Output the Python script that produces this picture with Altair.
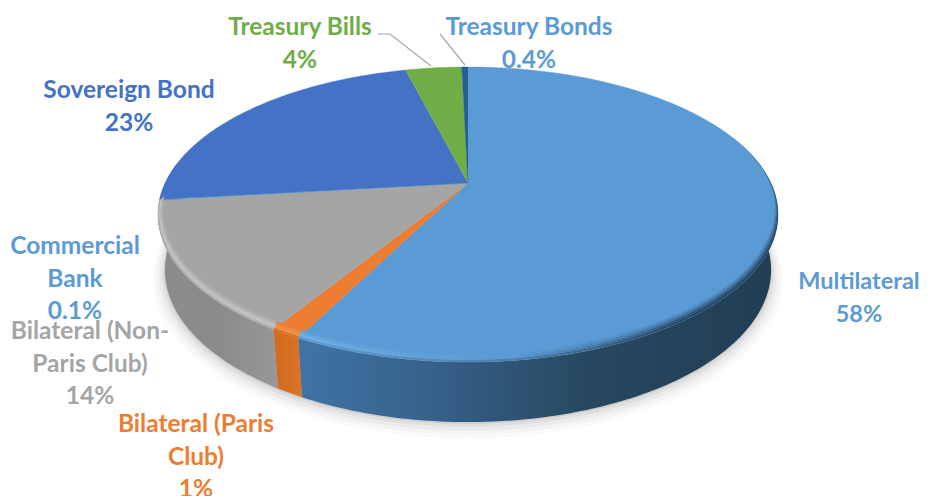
import math
import altair as alt

# ---- chart values (shares of the pie, clockwise from 12 o'clock)
categories = ["Multilateral", "Bilateral (Paris Club)", "Bilateral (Non-Paris Club)",
              "Commercial Bank", "Sovereign Bond", "Treasury Bills", "Treasury Bonds"]
shares = [57.5, 1.3, 14.3, 0.1, 22.8, 3.6, 0.4]
face_colors = ["#5b9bd5", "#ed7d31", "#a5a5a5", "#5b9bd5", "#4472c4", "#70ad47", "#255e91"]

label_texts = ["Treasury Bills\n4%", "Treasury Bonds\n0.4%", "Sovereign Bond\n23%",
               "Commercial\nBank\n0.1%", "Bilateral (Non-\nParis Club)\n14%",
               "Bilateral (Paris\nClub)\n1%", "Multilateral\n58%"]
label_colors = ["#70ad47", "#5b9bd5", "#4472c4", "#5b9bd5", "#a5a5a5", "#ed7d31", "#5b9bd5"]
label_x = [300, 529, 129, 75, 90, 196, 859]
label_y = [28, 28, 91, 247, 332, 425, 282]

leader_x = [[378, 390, 431], [440, 465]]
leader_y = [[34, 34, 66], [34, 65]]

# ---- page geometry of the tilted disc
W, H = 912, 488
M = 8
AX, AY = 468, 183
R, B, K = 302.9, 140.8, 0.2136
TOP = (468, 214.5, 310, 147.5)
BOT = (468, 270, 303, 152)


def unit(theta):
    """Position on the unit ellipse of a pie angle (degrees clockwise from top)."""
    t = math.radians(theta)
    u, v = math.sin(t), math.cos(t)
    d = 1 + K * v
    X, Y = R * u / d, -B * v / d
    return X / TOP[2], (AY + Y - TOP[1]) / TOP[3]


def on(ell, theta):
    nx, ny = unit(theta)
    return ell[0] + ell[2] * nx, ell[1] + ell[3] * ny


def angles(a, b):
    n = max(2, int(abs(b - a)) + 1)
    return [a + (b - a) * i / n for i in range(n + 1)]


def inset(s):
    """Rim ellipse: s=0 outer edge, s=1 inner edge of the rounded rim."""
    d = 9 * s
    return (468, 214.5 - d / 2, 310 - 5 * s, 147.5 - d / 2)


def taper(theta):
    """The rim only shows towards the viewer."""
    return min(1.0, max(0.0, (theta - 72) / 45))


sx = alt.Scale(domain=[0, W], range=[0, W], nice=False, zero=False)
sy = alt.Scale(domain=[0, H], range=[0, H], nice=False, zero=False)


def poly(points, fill, **kw):
    rows = [{"x": x - M, "y": y - M, "i": i} for i, (x, y) in enumerate(points)]
    kw.setdefault("strokeOpacity", 0)
    return alt.Chart(alt.Data(values=rows)).mark_line(fill=fill, **kw).encode(
        x=alt.X("x:Q", scale=sx, axis=None),
        y=alt.Y("y:Q", scale=sy, axis=None),
        order=alt.Order("i:Q"),
    )


def hgrad(stops):
    return alt.Gradient(gradient="linear", x1=0, x2=1, y1=0, y2=0,
                        stops=[alt.GradientStop(offset=o, color=c) for o, c in stops])


cum = [0]
for s in shares:
    cum.append(cum[-1] + s)
deg = [c * 3.6 for c in cum]

layers = []

# soft shadow under the disc
for grow, shift, op in [(12, 9, 0.02), (9, 7, 0.025), (6, 5, 0.035), (3, 3, 0.05), (1, 1, 0.08)]:
    ell = (BOT[0], BOT[1] + shift, BOT[2] + grow, BOT[3] + grow * 0.6)
    layers.append(poly([on(ell, a) for a in angles(0, 360)], "#000000", fillOpacity=op))

# side wall (the gray part runs on to the disc's left extreme)
wall_fill = {
    0: hgrad([(0, "#3f74a5"), (0.3, "#365f88"), (0.6, "#27485f"), (1, "#213d54")]),
    1: hgrad([(0, "#d06a20"), (1, "#dd7426")]),
    2: hgrad([(0, "#8c8c8c"), (0.5, "#8a8a8a"), (1, "#989898")]),
}
wall_start = {0: 70, 1: deg[1], 2: deg[2]}
wall_end = {0: deg[1], 1: deg[2], 2: 278}
for i in [2, 1, 0]:
    a = angles(wall_start[i], wall_end[i])
    pts = [on(TOP, t) for t in a] + [on(BOT, t) for t in reversed(a)]
    layers.append(poly(pts, wall_fill[i]))

# flat top face
for i, col in enumerate(face_colors):
    a = angles(deg[i], deg[i + 1])
    pts = [(AX, AY)] + [on(TOP, t) for t in a]
    layers.append(poly(pts, col, stroke=col, strokeWidth=0.4, strokeOpacity=1))

# rounded rim as nested strips
rim = {
    0: [hgrad([(0, l), (0.45, m), (0.8, r), (1, r)]) for l, m, r in [
        ("#5e9dd4", "#4a80b3", "#25435c"),
        ("#74b0e4", "#5d97cd", "#2f5577"),
        ("#69a8df", "#5b9bd5", "#40719f"),
        ("#5f9ed8", "#5b9bd5", "#5189be")]],
    1: ["#dd7426", "#f19350", "#f08a42", "#ee8036"],
    2: ["#b0b0b0", "#c6c6c6", "#bcbcbc", "#aeaeae"],
}
for i, fills in rim.items():
    a = angles(deg[i], deg[i + 1])
    for j, f in enumerate(fills):
        p0, p1 = j / 4, (j + 1) / 4
        pts = [on(inset(p0 * taper(t)), t) for t in a] + [on(inset(p1 * taper(t)), t) for t in reversed(a)]
        layers.append(poly(pts, f))

# leader lines
for xs, ys in zip(leader_x, leader_y):
    rows = [{"x": x - M, "y": y - M, "i": i} for i, (x, y) in enumerate(zip(xs, ys))]
    layers.append(alt.Chart(alt.Data(values=rows)).mark_line(color="#a6a6a6", strokeWidth=1.2).encode(
        x=alt.X("x:Q", scale=sx, axis=None),
        y=alt.Y("y:Q", scale=sy, axis=None),
        order=alt.Order("i:Q"),
    ))

# labels
rows = [{"t": t, "c": c, "x": x - M, "y": y - M, "s": s}
        for t, c, x, y, s in zip(label_texts, label_colors, label_x, label_y, [24.5] * 6 + [23.5])]
layers.append(alt.Chart(alt.Data(values=rows)).mark_text(
    font="Lato", fontWeight="bold", lineBreak="\n", lineHeight=32.5,
    align="center", baseline="middle",
).encode(
    x=alt.X("x:Q", scale=sx, axis=None),
    y=alt.Y("y:Q", scale=sy, axis=None),
    text="t:N",
    size=alt.Size("s:Q", scale=None, legend=None),
    color=alt.Color("c:N", scale=None),
))

chart = alt.layer(*layers).properties(
    width=W, height=H, padding=0, autosize=alt.AutoSizeParams(type="none"),
    background="white",
).configure_view(stroke=None)

chart.save("out.html", embed_options={"renderer": "svg", "actions": False})
